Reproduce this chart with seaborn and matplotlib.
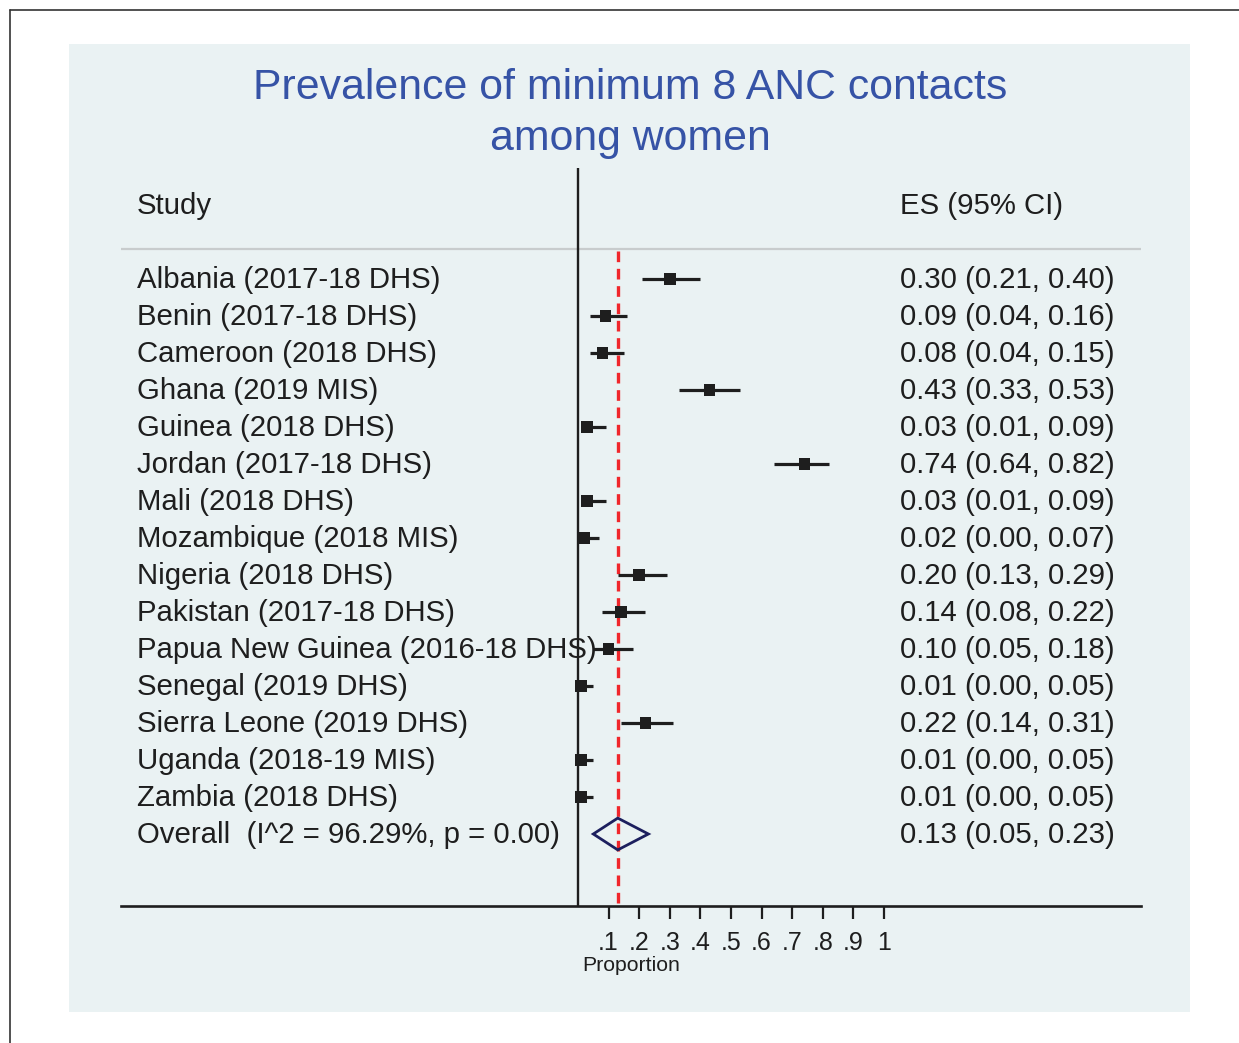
import numpy as np
import pandas as pd
import matplotlib.pyplot as plt
import matplotlib.patches as mpatches
import seaborn as sns

# Study data (proportion and 95% CI)
studies = ['Albania (2017-18 DHS)', 'Benin (2017-18 DHS)', 'Cameroon (2018 DHS)',
           'Ghana (2019 MIS)', 'Guinea (2018 DHS)', 'Jordan (2017-18 DHS)',
           'Mali (2018 DHS)', 'Mozambique (2018 MIS)', 'Nigeria (2018 DHS)',
           'Pakistan (2017-18 DHS)', 'Papua New Guinea (2016-18 DHS)',
           'Senegal (2019 DHS)', 'Sierra Leone (2019 DHS)', 'Uganda (2018-19 MIS)',
           'Zambia (2018 DHS)']
es = [0.30, 0.09, 0.08, 0.43, 0.03, 0.74, 0.03, 0.02, 0.20, 0.14, 0.10, 0.01, 0.22, 0.01, 0.01]
lo = [0.21, 0.04, 0.04, 0.33, 0.01, 0.64, 0.01, 0.00, 0.13, 0.08, 0.05, 0.00, 0.14, 0.00, 0.00]
hi = [0.40, 0.16, 0.15, 0.53, 0.09, 0.82, 0.09, 0.07, 0.29, 0.22, 0.18, 0.05, 0.31, 0.05, 0.05]

overall_label = 'Overall  (I^2 = 96.29%, p = 0.00)'
overall_es, overall_lo, overall_hi = 0.13, 0.05, 0.23

ticks = [0.1, 0.2, 0.3, 0.4, 0.5, 0.6, 0.7, 0.8, 0.9, 1.0]
tick_labels = ['.1', '.2', '.3', '.4', '.5', '.6', '.7', '.8', '.9', '1']

df = pd.DataFrame({'study': studies, 'es': es, 'lo': lo, 'hi': hi})
df['row'] = np.arange(len(df))
overall_row = len(df)

sns.set_style('white')
plt.rcParams['font.family'] = ['Liberation Sans', 'DejaVu Sans']

W, H = 1239, 1043
fig = plt.figure(figsize=(W / 100, H / 100), dpi=100)

# outer frame (left and top edges visible) and light panel
fig.add_artist(plt.Line2D([10 / W, 10 / W], [0, 1 - 10 / H], color='#333333', lw=1.2))
fig.add_artist(plt.Line2D([10 / W, 1], [1 - 10 / H, 1 - 10 / H], color='#333333', lw=1.2))
fig.add_artist(mpatches.Rectangle((69 / W, 1 - 1012 / H), (1190 - 69) / W, (1012 - 44) / H,
                                  facecolor='#EAF2F3', edgecolor='none', zorder=0))

fig.text(630 / W, 1 - 88 / H, 'Prevalence of minimum 8 ANC contacts', ha='center', va='center',
         fontsize=30.8, color='#3653A6')
fig.text(630 / W, 1 - 139 / H, 'among women', ha='center', va='center',
         fontsize=30.8, color='#3653A6')

# axes in pixel layout: x data = proportion, y data = row index
left, right, top, bottom = 121, 1141, 168, 906
ax = fig.add_axes([left / W, 1 - bottom / H, (right - left) / W, (bottom - top) / H])
ax.set_facecolor('none')
x0, px = 578, 306
ax.set_xlim((left - x0) / px, (right - x0) / px)
r0, step = 279, 37
ax.set_ylim((bottom - r0) / step, (top - r0) / step)

for s in ['top', 'left', 'right']:
    ax.spines[s].set_visible(False)
ax.spines['bottom'].set_color('#1e1e1e')
ax.spines['bottom'].set_linewidth(1.9)
ax.set_yticks([])
ax.set_xticks(ticks)
ax.set_xticklabels(tick_labels)
ax.tick_params(axis='x', bottom=True, length=9, width=1.6, color='#1e1e1e', pad=9,
               labelsize=18, labelcolor='#1e1e1e')

# header separator and null line
ax.axhline((249 - r0) / step, color='#C8CCCD', lw=1.6, zorder=1)
ax.axvline(0, color='#1e1e1e', lw=1.7, zorder=2)
ax.vlines(overall_es, (251 - r0) / step, (bottom - r0) / step, color='#F0262B', lw=2.4,
          linestyles=(0, (3.2, 2.0)), zorder=3)

# CIs and point estimates
ax.hlines(df['row'], df['lo'], df['hi'], color='#1e1e1e', lw=2.3, zorder=4)
sns.scatterplot(data=df, x='es', y='row', marker='s', s=70, color='#1e1e1e',
                edgecolor='none', ax=ax, zorder=5, legend=False)
ax.set_xlabel('Proportion', fontsize=15.3, color='#1e1e1e', labelpad=1)
ax.set_ylabel('')

# overall diamond
h = 0.43
ax.add_patch(mpatches.Polygon([[overall_lo, overall_row], [overall_es, overall_row - h],
                               [overall_hi, overall_row], [overall_es, overall_row + h]],
                              closed=True, fill=False, edgecolor='#1C1F5E', lw=2.0, zorder=5))

# text columns
fs = 21.2
dy = 0.03
lx = (137 - x0) / px
rx = (900 - x0) / px
hy = (205 - r0) / step
ax.text(lx, hy + dy, 'Study', fontsize=fs, color='#1e1e1e', va='center', ha='left')
ax.text(rx, hy + dy, 'ES (95% CI)', fontsize=fs, color='#1e1e1e', va='center', ha='left')
for _, r in df.iterrows():
    ax.text(lx, r['row'] + dy, r['study'], fontsize=fs, color='#1e1e1e', va='center', ha='left')
    ax.text(rx, r['row'] + dy, f"{r['es']:.2f} ({r['lo']:.2f}, {r['hi']:.2f})", fontsize=fs,
            color='#1e1e1e', va='center', ha='left')
ax.text(lx, overall_row + dy, overall_label, fontsize=fs, color='#1e1e1e', va='center', ha='left')
ax.text(rx, overall_row + dy, f"{overall_es:.2f} ({overall_lo:.2f}, {overall_hi:.2f})", fontsize=fs,
        color='#1e1e1e', va='center', ha='left')

fig.savefig('out.png', dpi=100)
